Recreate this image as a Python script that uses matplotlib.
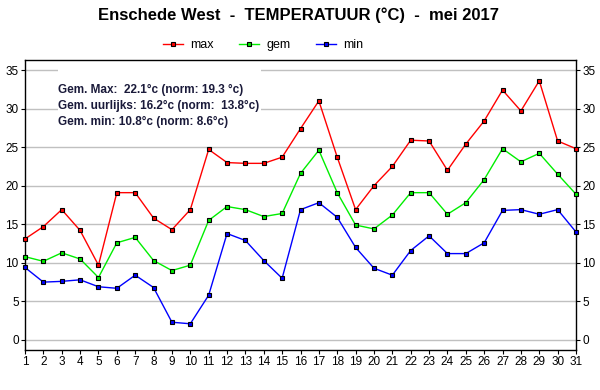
import matplotlib
matplotlib.use("Agg")
import matplotlib.pyplot as plt
from matplotlib.patches import Rectangle
from matplotlib.lines import Line2D

plt.rcParams['font.family'] = ['Liberation Sans', 'DejaVu Sans']

days = list(range(1, 32))
t_max = [13.1, 14.7, 16.9, 14.2, 9.7, 19.1, 19.1, 15.8, 14.3, 16.9,
         24.7, 23.0, 22.9, 22.9, 23.7, 27.4, 31.0, 23.7, 16.9, 20.0,
         22.5, 25.9, 25.8, 22.0, 25.4, 28.4, 32.4, 29.7, 33.6, 25.8, 24.8]
t_gem = [10.8, 10.2, 11.3, 10.5, 8.1, 12.6, 13.3, 10.3, 9.0, 9.7,
         15.5, 17.3, 16.9, 16.0, 16.4, 21.6, 24.6, 19.1, 14.9, 14.4,
         16.2, 19.1, 19.1, 16.3, 17.8, 20.8, 24.8, 23.1, 24.2, 21.5, 18.9]
t_min = [9.4, 7.5, 7.6, 7.8, 6.9, 6.7, 8.4, 6.8, 2.3, 2.1,
         5.8, 13.8, 12.9, 10.3, 8.0, 16.9, 17.8, 15.9, 12.0, 9.3,
         8.4, 11.6, 13.5, 11.2, 11.2, 12.6, 16.8, 16.9, 16.3, 16.9, 14.0]
series_names = ["max", "gem", "min"]
series_colors = ["#ff0000", "#00ee00", "#0000ff"]
yticks = [0, 5, 10, 15, 20, 25, 30, 35]
title = "Enschede West  -  TEMPERATUUR (°C)  -  mei 2017"
info_lines = ["Gem. Max:  22.1°c (norm: 19.3 °c)",
              "Gem. uurlijks: 16.2°c (norm:  13.8°c)",
              "Gem. min: 10.8°c (norm: 8.6°c)"]

W, H = 600, 390
fig = plt.figure(figsize=(6, 3.9), dpi=100)
ax = fig.add_axes([25 / W, 1 - 350 / H, 551 / W, 290 / H])

ax.set_xlim(1, 31)
ax.set_ylim(-1.3, 36.3)
ax.set_yticks(yticks)
ax.set_xticks(days)
ax.grid(axis='y', color='#c0c0c0', linewidth=1, zorder=0)
ax.set_axisbelow(True)

for vals, name, col in zip([t_max, t_gem, t_min], series_names, series_colors):
    ax.plot(days, vals, color=col, linewidth=1, marker='s', markersize=3.5,
            markerfacecolor=col, markeredgecolor='black', markeredgewidth=0.8,
            label=name, zorder=3, clip_on=False)

ax.tick_params(axis='both', labelsize=8.5, length=3, width=0.8, color='black', pad=1.5)
ax.tick_params(axis='y', right=True, labelright=True)
for s in ax.spines.values():
    s.set_linewidth(1)
    s.set_color('black')

# white info box (figure pixel coordinates, top-origin)
box = Rectangle((58 / W, 1 - 134 / H), 203 / W, 72 / H, transform=fig.transFigure,
                facecolor='white', edgecolor='none', zorder=1, clip_on=False)
ax.add_patch(box)

for i, line in enumerate(info_lines):
    fig.text(58 / W, 1 - (90 + i * 16) / H, line, fontsize=8.5, fontweight='bold',
             color='#1a1a3a', va='center', ha='left', zorder=5)

fig.text(0.497, 1 - 15 / H, title, fontsize=12, fontweight='bold', ha='center', va='center')

handles = [Line2D([0], [0], color=c, linewidth=1, marker='s', markersize=3.5,
                  markerfacecolor=c, markeredgecolor='black', markeredgewidth=0.8)
           for c in series_colors]
fig.legend(handles, series_names, loc='center', bbox_to_anchor=(263 / W, 1 - 45 / H),
           ncol=3, frameon=False, fontsize=9, handlelength=1.6, handletextpad=0.6,
           columnspacing=2.0)

fig.savefig("out.png", dpi=100)
